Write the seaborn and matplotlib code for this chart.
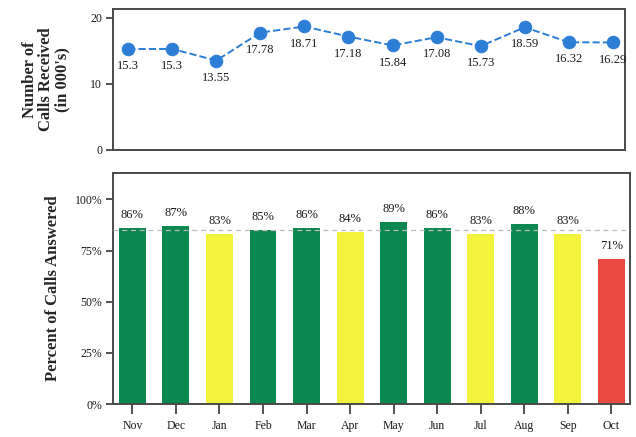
import matplotlib
matplotlib.use("Agg")
import matplotlib.pyplot as plt
import seaborn as sns
import pandas as pd

months = ["Nov", "Dec", "Jan", "Feb", "Mar", "Apr", "May", "Jun", "Jul", "Aug", "Sep", "Oct"]
calls_received = [15.3, 15.3, 13.55, 17.78, 18.71, 17.18, 15.84, 17.08, 15.73, 18.59, 16.32, 16.29]
pct_answered = [86, 87, 83, 85, 86, 84, 89, 86, 83, 88, 83, 71]
target_pct = 85

GREEN = "#0b8750"
YELLOW = "#f3f23c"
RED = "#e84a40"
BLUE = "#2d7ed6"
FRAME = "#4a4a4a"


def bar_color(v):
    if v >= target_pct:
        return GREEN
    if v >= 80:
        return YELLOW
    return RED


sns.set_theme(style="white")
plt.rcParams["font.family"] = ["Liberation Serif", "DejaVu Serif"]
plt.rcParams["axes.edgecolor"] = FRAME
plt.rcParams["text.color"] = "#1a1a1a"
plt.rcParams["xtick.color"] = "#333333"
plt.rcParams["ytick.color"] = "#333333"
plt.rcParams["xtick.labelcolor"] = "#1a1a1a"
plt.rcParams["ytick.labelcolor"] = "#1a1a1a"

df = pd.DataFrame({"month": months, "calls": calls_received, "pct": pct_answered})
df["x"] = range(len(months))

fig = plt.figure(figsize=(6.36, 4.37), dpi=100)
ax1 = fig.add_axes([0.178, 0.657, 0.805, 0.323])
ax2 = fig.add_axes([0.178, 0.075, 0.812, 0.53])

# Calls received (line chart)
sns.lineplot(data=df, x="x", y="calls", ax=ax1, color=BLUE, linestyle="--",
             linewidth=1.4, marker="o", markersize=9, markeredgecolor=BLUE)
for xi, v in zip(df["x"], calls_received):
    ax1.annotate(f"{v:g}", (xi, v), xytext=(0, -8), textcoords="offset points",
                 ha="center", va="top", fontsize=9)
ax1.set_xlim(-0.34, 11.28)
ax1.set_ylim(0, 21.4)
ax1.set_yticks([0, 10, 20])
ax1.set_xticks([])
ax1.set_xlabel("")
ax1.set_ylabel("Number of\nCalls Received\n(in 000's)", fontsize=12,
               fontweight="bold", labelpad=14, linespacing=1.05)

# Percent answered (bar chart)
palette = {m: bar_color(v) for m, v in zip(months, pct_answered)}
sns.barplot(data=df, x="month", y="pct", hue="month", palette=palette,
            legend=False, ax=ax2, width=0.62, saturation=1, edgecolor="none")
ax2.axhline(target_pct, color="#bbbbbb", linestyle=(0, (4, 3)), linewidth=0.9, zorder=3)
for xi, v in zip(df["x"], pct_answered):
    ax2.annotate(f"{v}%", (xi, v), xytext=(0, 5), textcoords="offset points",
                 ha="center", va="bottom", fontsize=9)
ax2.set_xlim(-0.44, 11.42)
ax2.set_ylim(0, 113)
ax2.set_yticks([0, 25, 50, 75, 100])
ax2.set_yticklabels([f"{t}%" for t in [0, 25, 50, 75, 100]])
ax2.set_xlabel("")
ax2.set_ylabel("Percent of Calls Answered", fontsize=12, fontweight="bold", labelpad=10)

for ax in (ax1, ax2):
    for s in ax.spines.values():
        s.set_visible(True)
        s.set_linewidth(1.4)
        s.set_color(FRAME)
    ax.tick_params(axis="y", which="major", direction="out", length=5, width=1.2,
                   labelsize=8.5, left=True, pad=3)
    ax.grid(False)
ax2.tick_params(axis="x", direction="out", length=7, width=1.2, labelsize=8.5,
                bottom=True, pad=4)

fig.savefig("out.png", dpi=100)
